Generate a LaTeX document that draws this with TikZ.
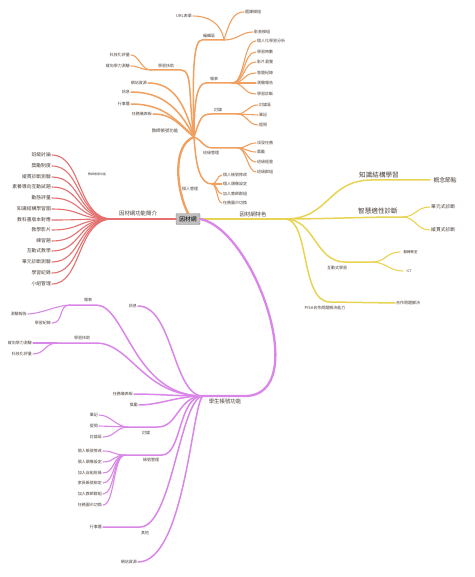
\documentclass[tikz,border=0pt]{standalone}
\usepackage{fontspec}
\setmainfont{Noto Sans CJK TC}
\usepackage{tikz}
\definecolor{orng}{RGB}{240,160,96}
\definecolor{rd}{RGB}{228,112,112}
\definecolor{ylw}{RGB}{232,212,84}
\definecolor{prpl}{RGB}{218,134,232}
\definecolor{txt}{RGB}{70,60,55}

\begin{document}
\begin{tikzpicture}[x=1pt,y=-1pt,
        leaf/.style={font=\fontsize{4}{4}\selectfont,text=txt,inner sep=1pt},
        rleaf/.style={font=\fontsize{4.8}{4.8}\selectfont,text=txt,inner sep=1pt},
        mid/.style={font=\fontsize{4.4}{4.4}\selectfont,text=txt,inner sep=0.5pt},
        big/.style={font=\fontsize{5.4}{5.4}\selectfont,text=txt,inner sep=0.5pt},
        huge/.style={font=\fontsize{6.6}{6.6}\selectfont,text=txt,inner sep=0.5pt},
        twig/.style={line width=1.1pt,line cap=round},
        limb/.style={line width=1.5pt,line cap=round},
        trunk/.style={line width=2.3pt,line cap=round},
        rootbox/.style={draw=black!45,fill=black!25,rounded corners=1pt,minimum width=24pt,minimum height=11pt,inner sep=1pt,font=\fontsize{5.8}{5.8}\selectfont}]
        \useasboundingbox (0,0) rectangle (474,577);

        % bends and fan points
        \coordinate (oh) at (194,137);
        \coordinate (oe0) at (202,40);
        \coordinate (oe) at (224,40);
        \coordinate (or0) at (206,83);
        \coordinate (or) at (232,83);
        \coordinate (ot0) at (211,114);
        \coordinate (ot) at (237,114);
        \coordinate (oc0) at (214,148);
        \coordinate (oc) at (238,148);
        \coordinate (op) at (212,184);
        \coordinate (oa0) at (181,70);
        \coordinate (oa) at (151,70);

        \coordinate (rf) at (112,219);

        \coordinate (yf) at (285,219);
        \coordinate (y10) at (372,180);
        \coordinate (y2) at (402,217);
        \coordinate (y30) at (345,262);
        \coordinate (y3) at (372,262);
        \coordinate (y40) at (330,302);

        \coordinate (ph) at (203,396);
        \coordinate (pr0) at (245,396);
        \coordinate (pa0) at (96,305);
        \coordinate (pa) at (70,305);
        \coordinate (pb0) at (96,343);
        \coordinate (pb) at (57,343);
        \coordinate (pc0) at (158,427);
        \coordinate (pc) at (128,427);
        \coordinate (pd0) at (162,455);
        \coordinate (pd) at (125,455);
        \coordinate (pe0) at (140,527);

        \node[rootbox] (root) at (188,219) {因材網};

        % teacher side
        \node[mid] (o0) at (165,131) {教師帳號功能};
        \node[leaf,anchor=south] (o1) at (209,39) {編輯區};
        \node[leaf,anchor=east] (o11) at (193,16) {URL表單};
        \node[leaf,anchor=west] (o12) at (244,12) {選課模組};
        \node[leaf,anchor=west] (o13) at (253,32) {影音模組};
        \node[leaf,anchor=south] (o2) at (214,82) {報表};
        \node[leaf,anchor=west] (o21) at (256,41) {個人化學習分析};
        \node[leaf,anchor=west] (o22) at (256,52) {學習時數};
        \node[leaf,anchor=west] (o23) at (256,62) {影片瀏覽};
        \node[leaf,anchor=west] (o24) at (256,73) {答題紀錄};
        \node[leaf,anchor=west] (o25) at (256,83) {測驗報告};
        \node[leaf,anchor=west] (o26) at (256,94) {學習診斷};
        \node[leaf,anchor=south] (o3) at (218,113) {討論};
        \node[leaf,anchor=west] (o31) at (258,105) {討論區};
        \node[leaf,anchor=west] (o32) at (258,115) {筆記};
        \node[leaf,anchor=west] (o33) at (258,125) {提問};
        \node[leaf] (o4) at (211,153) {班級管理};
        \node[leaf,anchor=west] (o41) at (256,143) {派發任務};
        \node[leaf,anchor=west] (o42) at (256,152) {獎勵};
        \node[leaf,anchor=west] (o43) at (256,162) {班級經營};
        \node[leaf,anchor=west] (o44) at (256,172) {班級群組};
        \node[leaf] (o5) at (190,189) {個人管理};
        \node[leaf,anchor=west] (o51) at (222,175) {個人帳號修改};
        \node[leaf,anchor=west] (o52) at (222,184) {個人頭像設定};
        \node[leaf,anchor=west] (o53) at (222,194) {加入教師群組};
        \node[leaf,anchor=west] (o54) at (222,203) {任務圖示切換};
        \node[leaf,anchor=south] (o6) at (166,69) {學習扶助};
        \node[leaf,anchor=east] (o61) at (131,55) {科技化評量};
        \node[leaf,anchor=east] (o62) at (131,66) {縱向學力測驗};
        \node[leaf,anchor=east] (o7) at (148,83) {網站資源};
        \node[leaf,anchor=east] (o8) at (131,92) {訊息};
        \node[leaf,anchor=east] (o9) at (131,104) {行事曆};
        \node[leaf,anchor=east] (o10) at (153,114) {任務儀表板};

        \draw[trunk,orng] (root.north) .. controls (176,190) and (172,145) .. (oh);
        \draw[limb,orng] (oh) .. controls +(-2,-70) and +(-8,0) .. (oe0) -- (oe);
        \draw[twig,orng] (oe) .. controls +(-3,-18) and +(14,0) .. (o11.east);
        \draw[twig,orng] (oe) .. controls +(6,-20) and +(-10,0) .. (o12.west);
        \draw[twig,orng] (oe) .. controls +(14,0) and +(-12,0) .. (o13.west);
        \draw[limb,orng] (oh) .. controls +(0,-40) and +(-8,0) .. (or0) -- (or);
        \draw[twig,orng] (or) .. controls +(13,0) and +(-13,0) .. (o21.west);
        \draw[twig,orng] (or) .. controls +(13,0) and +(-13,0) .. (o22.west);
        \draw[twig,orng] (or) .. controls +(13,0) and +(-13,0) .. (o23.west);
        \draw[twig,orng] (or) .. controls +(13,0) and +(-13,0) .. (o24.west);
        \draw[twig,orng] (or) -- (o25.west);
        \draw[twig,orng] (or) .. controls +(13,0) and +(-13,0) .. (o26.west);
        \draw[limb,orng] (oh) .. controls +(6,-18) and +(-10,0) .. (ot0) -- (ot);
        \draw[twig,orng] (ot) .. controls +(10,0) and +(-10,0) .. (o31.west);
        \draw[twig,orng] (ot) -- (o32.west);
        \draw[twig,orng] (ot) .. controls +(10,0) and +(-10,0) .. (o33.west);
        \draw[limb,orng] (oh) .. controls +(10,4) and +(-12,0) .. (oc0) -- (oc);
        \draw[twig,orng] (oc) .. controls +(8,0) and +(-8,0) .. (o41.west);
        \draw[twig,orng] (oc) .. controls +(8,0) and +(-8,0) .. (o42.west);
        \draw[twig,orng] (oc) .. controls +(8,0) and +(-8,0) .. (o43.west);
        \draw[twig,orng] (oc) .. controls +(8,0) and +(-8,0) .. (o44.west);
        \draw[limb,orng] (oh) .. controls +(2,30) and +(-12,0) .. (op);
        \draw[twig,orng] (op) .. controls +(5,0) and +(-5,0) .. (o51.west);
        \draw[twig,orng] (op) -- (o52.west);
        \draw[twig,orng] (op) .. controls +(5,0) and +(-5,0) .. (o53.west);
        \draw[twig,orng] (op) .. controls +(5,0) and +(-5,0) .. (o54.west);
        \draw[limb,orng] (oh) .. controls +(-6,-40) and +(12,0) .. (oa0) -- (oa);
        \draw[twig,orng] (oa) .. controls +(-10,0) and +(8,0) .. (o61.east);
        \draw[twig,orng] (oa) .. controls +(-10,0) and +(8,0) .. (o62.east);
        \draw[limb,orng] (oh) .. controls +(-10,-35) and +(25,0) .. (o7.east);
        \draw[limb,orng] (oh) .. controls +(-15,-30) and +(30,0) .. (o8.east);
        \draw[limb,orng] (oh) .. controls +(-20,-20) and +(30,0) .. (o9.east);
        \draw[limb,orng] (oh) .. controls +(-15,-12) and +(20,0) .. (o10.east);

        % overview side
        \node[big] (r0) at (138,213) {因材網功能簡介};
        \node[font=\fontsize{3}{3}\selectfont,text=txt] (rn) at (97,174) {教師帳號功能};
        \node[rleaf,anchor=east] (r1) at (52,155) {班級討論};
        \node[rleaf,anchor=east] (r2) at (52,166) {獎勵制度};
        \node[rleaf,anchor=east] (r3) at (52,177) {縱貫診斷測驗};
        \node[rleaf,anchor=east] (r4) at (52,187) {素養導向互動試題};
        \node[rleaf,anchor=east] (r5) at (52,198) {動態評量};
        \node[rleaf,anchor=east] (r6) at (52,209) {知識結構學習圖};
        \node[rleaf,anchor=east] (r7) at (52,220) {教科書版本對應};
        \node[rleaf,anchor=east] (r8) at (52,230) {教學影片};
        \node[rleaf,anchor=east] (r9) at (52,241) {練習題};
        \node[rleaf,anchor=east] (r10) at (52,251) {互動式教學};
        \node[rleaf,anchor=east] (r11) at (52,262) {單元診斷測驗};
        \node[rleaf,anchor=east] (r12) at (52,273) {學習紀錄};
        \node[rleaf,anchor=east] (r13) at (52,284) {小組管理};

        \draw[trunk,rd] (root.west) -- (rf);
        \draw[twig,rd] (rf) .. controls +(-35,0) and +(30,0) .. (r1.east);
        \draw[twig,rd] (rf) .. controls +(-35,0) and +(30,0) .. (r2.east);
        \draw[twig,rd] (rf) .. controls +(-35,0) and +(30,0) .. (r3.east);
        \draw[twig,rd] (rf) .. controls +(-35,0) and +(30,0) .. (r4.east);
        \draw[twig,rd] (rf) .. controls +(-35,0) and +(30,0) .. (r5.east);
        \draw[twig,rd] (rf) .. controls +(-35,0) and +(30,0) .. (r6.east);
        \draw[twig,rd] (rf) .. controls +(-35,0) and +(30,0) .. (r7.east);
        \draw[twig,rd] (rf) .. controls +(-35,0) and +(30,0) .. (r8.east);
        \draw[twig,rd] (rf) .. controls +(-35,0) and +(30,0) .. (r9.east);
        \draw[twig,rd] (rf) .. controls +(-35,0) and +(30,0) .. (r10.east);
        \draw[twig,rd] (rf) .. controls +(-35,0) and +(30,0) .. (r11.east);
        \draw[twig,rd] (rf) .. controls +(-35,0) and +(30,0) .. (r12.east);
        \draw[twig,rd] (rf) .. controls +(-35,0) and +(30,0) .. (r13.east);

        % features side
        \node[big] (y0) at (253,214) {因材網特色};
        \node[huge,anchor=south] (y1) at (379,178.5) {知識結構學習};
        \node[font=\fontsize{5.8}{5.8}\selectfont,text=txt,anchor=west] (y11) at (430,180) {概念節點};
        \node[huge,anchor=south] (y20) at (378,215) {智慧適性診斷};
        \node[rleaf,anchor=west] (y21) at (430,207) {單元式診斷};
        \node[rleaf,anchor=west] (y22) at (430,230) {縱貫式診斷};
        \node[leaf,anchor=north] (y3l) at (337,264.5) {互動式學習};
        \node[font=\fontsize{3.5}{3.5}\selectfont,text=txt,anchor=west] (y31) at (400,252) {翻轉教室};
        \node[font=\fontsize{3.5}{3.5}\selectfont,text=txt,anchor=west] (y32) at (403,271) {ICT};
        \node[leaf,anchor=north] (y4) at (325,304.5) {PISA合作問題解決能力};
        \node[leaf,anchor=west] (y41) at (395,303) {合作問題解決};

        \draw[trunk,ylw] (root.east) -- (yf);
        \draw[limb,ylw] (yf) .. controls +(45,0) and +(-45,0) .. (y10) -- (y11.west);
        \draw[limb,ylw] (yf) .. controls +(40,0) and +(-40,0) .. (y2);
        \draw[twig,ylw] (y2) .. controls +(14,0) and +(-14,0) .. (y21.west);
        \draw[twig,ylw] (y2) .. controls +(14,0) and +(-14,0) .. (y22.west);
        \draw[limb,ylw] (yf) .. controls +(30,0) and +(-30,0) .. (y30) -- (y3);
        \draw[twig,ylw] (y3) .. controls +(14,0) and +(-14,0) .. (y31.west);
        \draw[twig,ylw] (y3) .. controls +(14,0) and +(-14,0) .. (y32.west);
        \draw[limb,ylw] (yf) .. controls +(25,0) and +(-30,0) .. (y40) -- (y41.west);

        % student side
        \node[big,anchor=north] (p0) at (225,398) {學生帳號功能};
        \node[leaf,anchor=south] (p1) at (88,303.5) {報表};
        \node[leaf,anchor=east] (p11) at (28,314) {測驗報告};
        \node[leaf,anchor=east] (p12) at (52,323) {學習紀錄};
        \node[leaf,anchor=east] (p2) at (138,306) {訊息};
        \node[leaf,anchor=south] (p3) at (82,341.5) {學習扶助};
        \node[leaf,anchor=east] (p31) at (33,343) {縱向學力測驗};
        \node[leaf,anchor=east] (p32) at (33,354) {科技化評量};
        \node[leaf,anchor=east] (p4) at (134,394) {任務儀表板};
        \node[leaf,anchor=east] (p5) at (139,405) {獎勵};
        \node[leaf,anchor=north] (p6) at (146,429.5) {討論};
        \node[leaf,anchor=east] (p61) at (99,415) {筆記};
        \node[leaf,anchor=east] (p62) at (99,426) {提問};
        \node[leaf,anchor=east] (p63) at (103,437) {討論區};
        \node[leaf,anchor=north] (p7) at (151,457) {帳號管理};
        \node[leaf,anchor=east] (p71) at (103,451) {個人帳號修改};
        \node[leaf,anchor=east] (p72) at (103,462) {個人頭像設定};
        \node[leaf,anchor=east] (p73) at (103,473) {加入自組班級};
        \node[leaf,anchor=east] (p74) at (103,483) {家長帳號綁定};
        \node[leaf,anchor=east] (p75) at (103,494) {加入教師群組};
        \node[leaf,anchor=east] (p76) at (103,505) {任務圖示切換};
        \node[leaf,anchor=north] (p8) at (145,529.5) {其他};
        \node[leaf,anchor=east] (p81) at (103,527) {行事曆};
        \node[leaf,anchor=east] (p9) at (138,562) {網站資源};

        \draw[trunk,prpl] (root.east) .. controls (255,230) and (312,396) .. (pr0) -- (ph);
        \draw[limb,prpl] (ph) .. controls +(-70,0) and +(30,0) .. (pa0) -- (pa);
        \draw[twig,prpl] (pa) .. controls +(-12,0) and +(12,0) .. (p11.east);
        \draw[twig,prpl] (pa) .. controls +(-12,0) and +(12,0) .. (p12.east);
        \draw[limb,prpl] (ph) .. controls +(-30,0) and +(35,0) .. (p2.east);
        \draw[limb,prpl] (ph) .. controls +(-60,0) and +(35,0) .. (pb0) -- (pb);
        \draw[twig,prpl] (pb) -- (p31.east);
        \draw[twig,prpl] (pb) .. controls +(-12,0) and +(12,0) .. (p32.east);
        \draw[limb,prpl] (ph) .. controls +(-25,0) and +(20,0) .. (p4.east);
        \draw[limb,prpl] (ph) .. controls +(-25,0) and +(20,0) .. (p5.east);
        \draw[limb,prpl] (ph) .. controls +(-25,0) and +(20,0) .. (pc0) -- (pc);
        \draw[twig,prpl] (pc) .. controls +(-12,0) and +(12,0) .. (p61.east);
        \draw[twig,prpl] (pc) -- (p62.east);
        \draw[twig,prpl] (pc) .. controls +(-12,0) and +(12,0) .. (p63.east);
        \draw[limb,prpl] (ph) .. controls +(-25,0) and +(20,0) .. (pd0) -- (pd);
        \draw[twig,prpl] (pd) .. controls +(-12,0) and +(12,0) .. (p71.east);
        \draw[twig,prpl] (pd) .. controls +(-12,0) and +(12,0) .. (p72.east);
        \draw[twig,prpl] (pd) .. controls +(-12,0) and +(12,0) .. (p73.east);
        \draw[twig,prpl] (pd) .. controls +(-12,0) and +(12,0) .. (p74.east);
        \draw[twig,prpl] (pd) .. controls +(-12,0) and +(12,0) .. (p75.east);
        \draw[twig,prpl] (pd) .. controls +(-12,0) and +(12,0) .. (p76.east);
        \draw[limb,prpl] (ph) .. controls (180,398) and (172,527) .. (pe0) -- (p81.east);
        \draw[limb,prpl] (ph) .. controls (192,402) and (185,562) .. (p9.east);
    \end{tikzpicture}
\end{document}
